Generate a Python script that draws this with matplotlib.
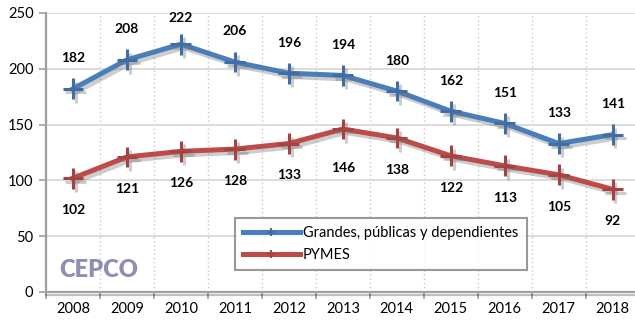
import matplotlib.pyplot as plt
import matplotlib.patheffects as pe
from matplotlib.ticker import FixedLocator

plt.rcParams['font.family'] = ['Lato', 'DejaVu Sans']

years = ['2008', '2009', '2010', '2011', '2012', '2013', '2014', '2015', '2016', '2017', '2018']
grandes = [182, 208, 222, 206, 196, 194, 180, 162, 151, 133, 141]
pymes = [102, 121, 126, 128, 133, 146, 138, 122, 113, 105, 92]

blue = '#4A7EBB'
red = '#BE4B48'

fig = plt.figure(figsize=(6.35, 3.23), dpi=100)
ax = fig.add_axes([0.0724, 0.096, 0.935, 0.864])

x = list(range(len(years)))
shadow = [pe.SimpleLineShadow(offset=(2, -2.5), shadow_color='#707070', alpha=0.35),
          pe.Normal()]

ax.plot(x, grandes, color=blue, lw=3.6, marker='+', ms=15, mew=2.2,
        mec='#3F6EA6', path_effects=shadow, zorder=4,
        label='Grandes, públicas y dependientes')
ax.plot(x, pymes, color=red, lw=3.6, marker='+', ms=15, mew=2.2,
        mec='#A84240', path_effects=shadow, zorder=4, label='PYMES')

for i, v in enumerate(grandes):
    off = 19 if v == max(grandes) else 22
    ax.annotate(str(v), (i, v), xytext=(0, off), textcoords='offset points',
                ha='center', va='center', fontsize=10, fontweight='bold')
for i, v in enumerate(pymes):
    off = -28 if v == max(pymes) else -23
    ax.annotate(str(v), (i, v), xytext=(0, off), textcoords='offset points',
                ha='center', va='center', fontsize=10, fontweight='bold')

ax.set_xlim(-0.5, len(years) - 0.5)
ax.set_ylim(0, 250)
ax.set_yticks([0, 50, 100, 150, 200, 250])
ax.set_xticks(x)
ax.set_xticklabels(years)
ax.xaxis.set_minor_locator(FixedLocator([i + 0.5 for i in range(-1, len(years))]))
ax.tick_params(axis='x', which='major', length=0, labelsize=10.5, pad=7)
ax.tick_params(axis='x', which='minor', length=5, width=1.2, color='#A0A0A0')
ax.tick_params(axis='y', length=5, width=1.2, color='#A0A0A0', labelsize=10.5, pad=4)

ax.grid(axis='y', color='#D9D9D9', lw=1.3)
ax.grid(axis='x', which='minor', color='#C8C8C8', lw=1, ls=(0, (1, 2)))
ax.set_axisbelow(True)

for s in ['top', 'right']:
    ax.spines[s].set_visible(False)
for s in ['left', 'bottom']:
    ax.spines[s].set_color('#A0A0A0')
    ax.spines[s].set_linewidth(1.6)
ax.spines['bottom'].set_path_effects([pe.SimpleLineShadow(offset=(0, -2), alpha=0.25), pe.Normal()])

leg = ax.legend(loc='lower left', bbox_to_anchor=(0.318, 0.079, 0.493, 0.186),
                mode='expand', fontsize=10.5, frameon=True, fancybox=False,
                handlelength=3.9, handletextpad=0.2, borderpad=0.55,
                labelspacing=0.55, borderaxespad=0)
leg.get_frame().set_edgecolor('#808080')
leg.get_frame().set_linewidth(1.5)
for h in leg.get_lines():
    h.set_path_effects([])
    h.set_markersize(6)
    h.set_markeredgewidth(1.5)

ax.text(0.088, 0.079, 'CEPCO', transform=ax.transAxes, fontsize=17,
        fontweight='heavy', color='#7C7BA6', alpha=0.85, ha='center', va='center')

fig.savefig('out.png', dpi=100)
